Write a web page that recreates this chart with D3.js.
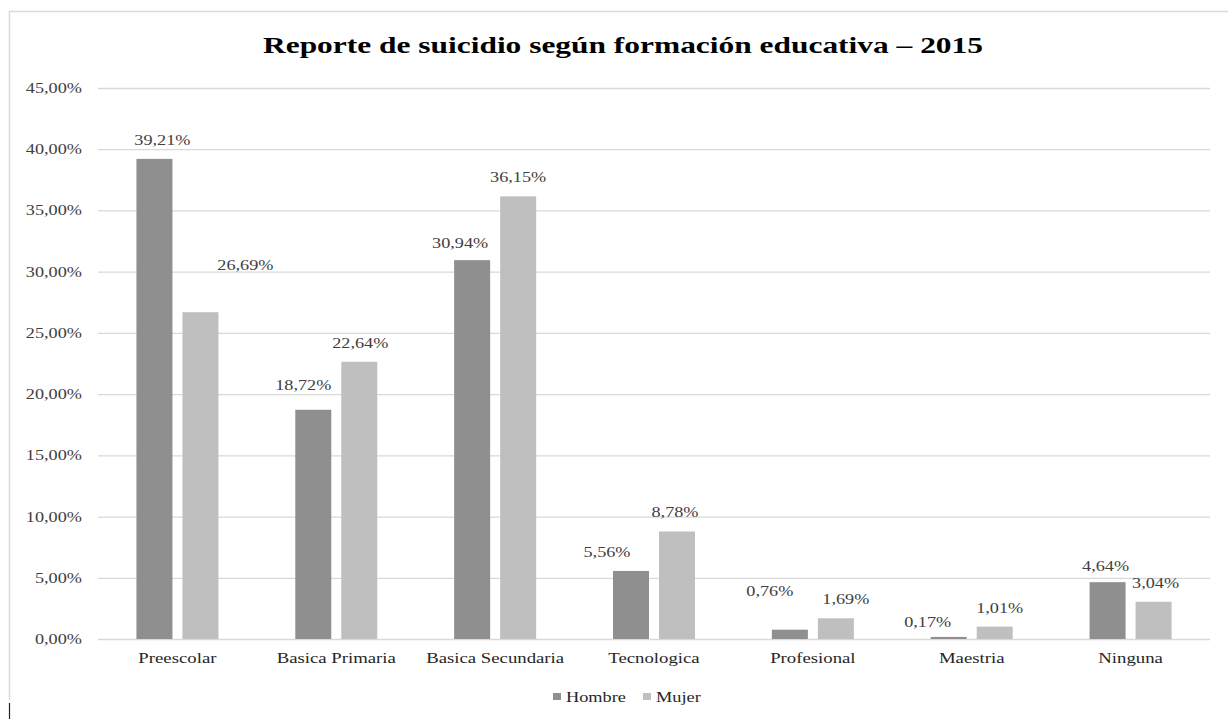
<!DOCTYPE html>
<html>
<head>
<meta charset="utf-8">
<script src="https://cdn.jsdelivr.net/npm/d3@7"></script>
<style>
  html, body { margin: 0; padding: 0; background: #fff; }
  svg { display: block; }
  text { font-family: "Liberation Serif", "Times New Roman", serif; }
</style>
</head>
<body>
<svg id="chart" width="1228" height="719"></svg>
<script>
// Education levels and the share of suicide reports (%) per sex, 2015
const categories = ["Preescolar", "Basica Primaria", "Basica Secundaria", "Tecnologica", "Profesional", "Maestria", "Ninguna"];
const series = ["Hombre", "Mujer"];
const hombre = [39.21, 18.72, 30.94, 5.56, 0.76, 0.17, 4.64];
const mujer  = [26.69, 22.64, 36.15, 8.78, 1.69, 1.01, 3.04];
const yTicks = [0, 5, 10, 15, 20, 25, 30, 35, 40, 45];
const titleText = "Reporte de suicidio según formación educativa – 2015";

// hand-placed data labels: [dx, dy] offsets from the default spot above each bar
const hombreLabelShift = [[8, 0], [-10, -6], [-12, 2], [-24, 0], [-20, -20], [-21, 4], [-2, 3]];
const mujerLabelShift  = [[45, -28], [1, 0], [0, 0], [-2, 0], [10, 0], [5, 0], [2, 0]];

const colors = { Hombre: "#8f8f8f", Mujer: "#bfbfbf" };
const values = { Hombre: hombre, Mujer: mujer };
const shifts = { Hombre: hombreLabelShift, Mujer: mujerLabelShift };

const svg = d3.select("#chart");
const fmt = v => v.toFixed(2).replace(".", ",") + "%";

// widen text horizontally by factor k
function stretch(sel, k) {
  sel.each(function () {
    const len = this.getComputedTextLength();
    d3.select(this).attr("textLength", len * k).attr("lengthAdjust", "spacingAndGlyphs");
  });
}

// chart frame
svg.append("path")
  .attr("d", "M9.5,700 V11.5 H1228")
  .attr("fill", "none").attr("stroke", "#d9d9d9").attr("stroke-width", 1.5);
svg.append("line")
  .attr("x1", 9.5).attr("x2", 9.5).attr("y1", 703).attr("y2", 719)
  .attr("stroke", "#222").attr("stroke-width", 1.2);

const x = d3.scaleBand().domain(categories).range([98, 1210]).paddingInner(0).paddingOuter(0);
const xs = d3.scaleBand().domain(series).range([-41, 41]).paddingInner(10 / 46).paddingOuter(0);
const y = d3.scaleLinear().domain([0, 45]).range([639, 88]);

// gridlines
svg.append("g").selectAll("line").data(yTicks).join("line")
  .attr("x1", 98).attr("x2", 1210)
  .attr("y1", d => y(d) + 0.5).attr("y2", d => y(d) + 0.5)
  .attr("stroke", "#d9d9d9").attr("stroke-width", 1.3);

// y axis labels
const yl = svg.append("g").selectAll("text").data(yTicks).join("text")
  .attr("x", 82).attr("y", d => y(d) + 5)
  .attr("text-anchor", "end")
  .attr("font-size", 14).attr("fill", "#404040")
  .text(d => fmt(d));
stretch(yl, 1.3);

// bars
const rows = [];
categories.forEach((c, i) => series.forEach(s => rows.push({ c, s, v: values[s][i], sh: shifts[s][i] })));
const cx = d => x(d.c) + x.bandwidth() / 2 + xs(d.s);

svg.append("g").selectAll("rect").data(rows).join("rect")
  .attr("x", cx)
  .attr("y", d => y(d.v))
  .attr("width", xs.bandwidth())
  .attr("height", d => y(0) - y(d.v))
  .attr("fill", d => colors[d.s]);

// value labels
const vl = svg.append("g").selectAll("text").data(rows).join("text")
  .attr("x", d => cx(d) + xs.bandwidth() / 2 + d.sh[0])
  .attr("y", d => y(d.v) - 14 + d.sh[1])
  .attr("text-anchor", "middle")
  .attr("font-size", 14).attr("fill", "#404040")
  .text(d => fmt(d.v));
stretch(vl, 1.3);

// category labels
const cl = svg.append("g").selectAll("text").data(categories).join("text")
  .attr("x", d => x(d) + x.bandwidth() / 2)
  .attr("y", 663)
  .attr("text-anchor", "middle")
  .attr("font-size", 15).attr("fill", "#262626")
  .text(d => d);
stretch(cl, 1.25);

// title
svg.append("text")
  .attr("x", 623).attr("y", 53)
  .attr("text-anchor", "middle")
  .attr("font-size", 23).attr("font-weight", "bold").attr("fill", "#000")
  .attr("textLength", 720).attr("lengthAdjust", "spacingAndGlyphs")
  .text(titleText);

// legend
const legend = svg.append("g");
const legendX = { Hombre: 553, Mujer: 643 };
series.forEach(s => {
  legend.append("rect")
    .attr("x", legendX[s]).attr("y", 693).attr("width", 8).attr("height", 7)
    .attr("fill", colors[s]);
  const t = legend.append("text")
    .attr("x", legendX[s] + 13).attr("y", 702)
    .attr("font-size", 15).attr("fill", "#262626")
    .text(s);
  stretch(t, 1.22);
});
</script>
</body>
</html>
